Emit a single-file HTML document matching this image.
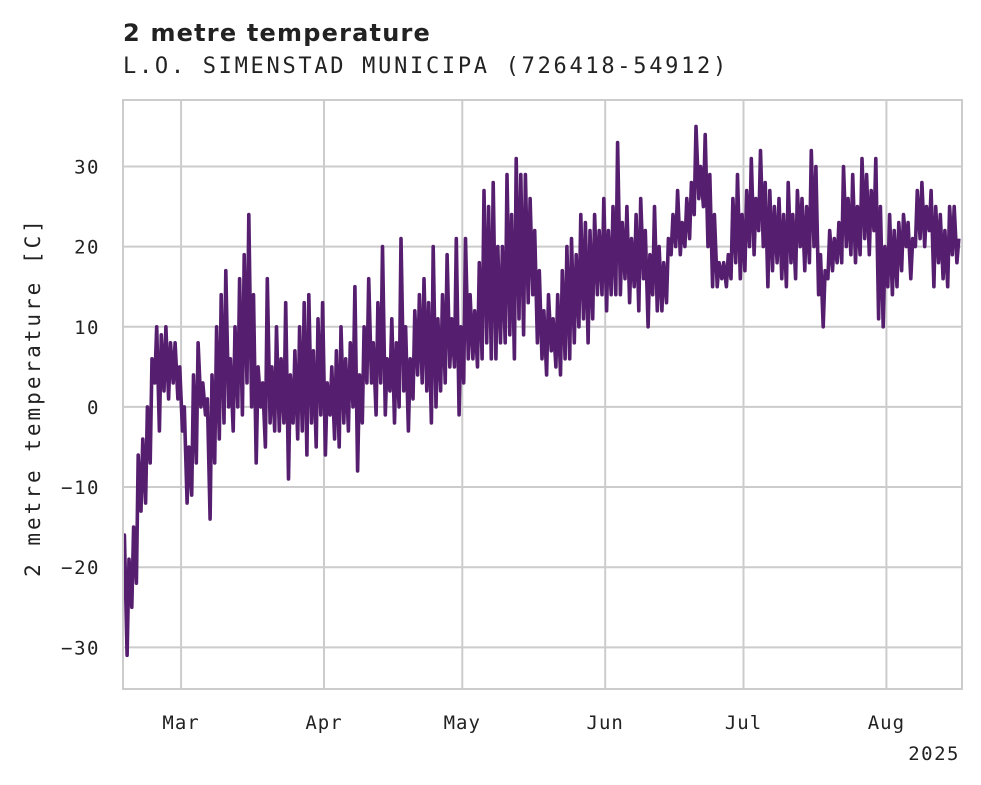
<!DOCTYPE html>
<html><head><meta charset="utf-8"><style>
body{margin:0;background:#fff;}
svg{display:block;}
</style></head><body>
<svg id="chart" width="981" height="785" xmlns="http://www.w3.org/2000/svg">
<defs><clipPath id="plotclip"><rect x="123" y="100" width="839" height="589"/></clipPath></defs>
<text x="123" y="41" font-family="DejaVu Sans, Liberation Sans, sans-serif" font-weight="bold" font-size="24" letter-spacing="1.2" fill="#222">2 metre temperature</text>
<text x="123" y="73" font-family="DejaVu Sans Mono, Liberation Mono, monospace" font-size="22" letter-spacing="2.7" fill="#222">L.O. SIMENSTAD MUNICIPA (726418-54912)</text>
<g id="grid"></g>
<g id="ticks"></g>
<path id="line" clip-path="url(#plotclip)" fill="none" stroke="#561e6e" stroke-width="3.6" stroke-linejoin="round"/>
<rect x="123" y="100" width="839" height="589" fill="none" stroke="#cccccc" stroke-width="2"/>
<text transform="translate(40,397) rotate(-90)" text-anchor="middle" font-family="DejaVu Sans Mono, Liberation Mono, monospace" font-size="21" letter-spacing="3" fill="#222">2 metre temperature [C]</text>
<text x="960" y="760" text-anchor="end" font-family="DejaVu Sans Mono, Liberation Mono, monospace" font-size="19" letter-spacing="1.5" fill="#222">2025</text>
</svg>
<script>
// days since 2025-02-16; daily lows and highs (°C)
const dailyLows = [-24,-31,-25,-22,-13,-12,-7,3,-3,2,1,3,1,-3,
-12,-11,-7,0,-1,-14,-7,-4,-2,0,-3,0,-1,3,0,-7,0,-5,-2,-3,-3,-2,-9,-2,-4,-3,-6,-2,-5,-1,
-6,-1,-4,-5,-2,-3,0,-8,-2,3,3,-1,3,-1,2,-2,0,2,-3,1,4,3,2,-2,0,2,3,5,5,-1,
3,6,6,5,6,8,6,6,8,8,9,6,11,9,13,14,8,6,4,7,5,4,6,6,8,10,11,8,11,14,14,12,14,14,
14,16,13,15,12,16,10,14,12,12,13,19,20,19,20,21,24,26,25,20,15,15,16,15,16,18,16,17,20,19,22,20,
15,17,18,16,15,18,16,20,17,18,20,14,10,16,17,18,18,20,19,18,19,21,19,22,11,10,15,14,15,17,20,16,
20,21,20,22,15,18,16,15,19,18];
const dailyHighs = [-16,-19,-15,-6,-4,0,6,10,9,10,8,8,5,0,
-5,4,8,3,1,4,10,14,17,6,10,16,19,24,14,5,3,16,5,10,6,13,4,7,10,13,14,7,11,13,
3,5,7,10,6,8,15,4,10,16,8,13,20,6,11,8,21,10,6,12,14,16,13,20,11,14,19,11,21,10,
21,14,12,18,27,25,28,20,20,29,24,31,29,29,26,22,17,12,14,11,14,17,20,21,19,24,23,22,24,22,26,22,25,33,
23,25,21,24,26,22,19,25,20,18,21,24,27,23,26,28,35,30,34,29,24,18,18,19,26,29,24,27,31,26,32,28,
27,25,26,24,28,24,27,26,25,32,30,19,17,22,21,23,30,26,29,25,31,29,27,31,25,20,24,22,23,24,23,21,
27,28,25,27,25,24,22,25,25,21];
const yTicks = [-30,-20,-10,0,10,20,30];
const monthLabels = ["Mar","Apr","May","Jun","Jul","Aug"];
const monthDays = [13,44,74,105,135,166];

const NS="http://www.w3.org/2000/svg";
const X0=123,X1=962,Y0=100,Y1=689;
const tMin=0.4,tMax=182.4,vMin=-35.2,vMax=38.3;
function xs(t){return X0+(t-tMin)/(tMax-tMin)*(X1-X0);}
function ys(v){return Y1-(v-vMin)/(vMax-vMin)*(Y1-Y0);}
const grid=document.getElementById('grid'), ticks=document.getElementById('ticks');
yTicks.forEach(v=>{
  const l=document.createElementNS(NS,'line');
  l.setAttribute('x1',X0);l.setAttribute('x2',X1);l.setAttribute('y1',ys(v));l.setAttribute('y2',ys(v));
  l.setAttribute('stroke','#cccccc');l.setAttribute('stroke-width','2');
  
  
  grid.appendChild(l);
  const t=document.createElementNS(NS,'text');
  t.setAttribute('x',100);t.setAttribute('y',ys(v)+7);t.setAttribute('text-anchor','end');
  t.setAttribute('font-family','DejaVu Sans Mono, Liberation Mono, monospace');t.setAttribute('font-size','19');t.setAttribute('letter-spacing','1.5');t.setAttribute('fill','#222');
  t.textContent=(v<0?'\u2212'+Math.abs(v):String(v));
  
  
  ticks.appendChild(t);
});
monthLabels.forEach((m,i)=>{
  const x=xs(monthDays[i]);
  const l=document.createElementNS(NS,'line');
  l.setAttribute('x1',x);l.setAttribute('x2',x);l.setAttribute('y1',Y0);l.setAttribute('y2',Y1);
  l.setAttribute('stroke','#cccccc');l.setAttribute('stroke-width','2');
  
  
  grid.appendChild(l);
  const t=document.createElementNS(NS,'text');
  t.setAttribute('x',x);t.setAttribute('y',729);t.setAttribute('text-anchor','middle');
  t.setAttribute('font-family','DejaVu Sans Mono, Liberation Mono, monospace');t.setAttribute('font-size','19');t.setAttribute('letter-spacing','1');t.setAttribute('fill','#222');
  t.textContent=m;
  
  
  ticks.appendChild(t);
});
let d='';
for(let i=0;i<dailyLows.length;i++){
  const a=xs(i+0.3),b=ys(dailyLows[i]),c=xs(i+0.7),e=ys(dailyHighs[i]);
  d+=(i===0?'M':'L')+a.toFixed(1)+','+b.toFixed(1)+'L'+c.toFixed(1)+','+e.toFixed(1);
}
document.getElementById('line').setAttribute('d',d);
</script>
</body></html>
